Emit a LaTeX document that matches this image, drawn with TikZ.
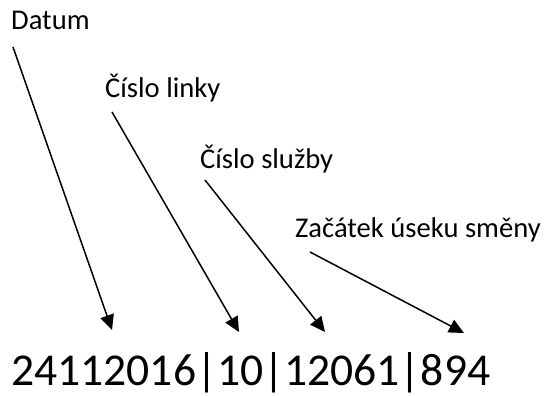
\documentclass[tikz,border=0pt]{standalone}
\usepackage{fontspec}
\setmainfont{Carlito}
\usetikzlibrary{arrows.meta}
\begin{document}
\begin{tikzpicture}[x=1pt,y=-1pt,
  lbl/.style={anchor=base west,inner sep=0pt,font=\fontsize{28.6}{32}\selectfont},
  big/.style={anchor=base west,inner sep=0pt,font=\fontsize{45.6}{50}\selectfont},
  pointer/.style={line width=1.5pt,-{Triangle[length=15pt,width=14pt]}}]
\useasboundingbox (0,0) rectangle (552,396);
\node[lbl] (datum) at (11,30) {Datum};
\node[lbl] (linka) at (105,98) {Číslo linky};
\node[lbl] (sluzba) at (200,168) {Číslo služby};
\node[lbl] (usek) at (295,237) {Začátek úseku směny};
\node[big] (kod) at (11,385) {24112016|10|12061|894};
\coordinate (s1) at (13,47);
\coordinate (t1) at (112,330);
\coordinate (s2) at (112,112);
\coordinate (t2) at (239,332);
\coordinate (s3) at (205,180);
\coordinate (t3) at (325,332);
\coordinate (s4) at (310,252);
\coordinate (t4) at (464,333);
\draw[pointer] (s1) -- (t1);
\draw[pointer] (s2) -- (t2);
\draw[pointer] (s3) -- (t3);
\draw[pointer] (s4) -- (t4);
\end{tikzpicture}
\end{document}
